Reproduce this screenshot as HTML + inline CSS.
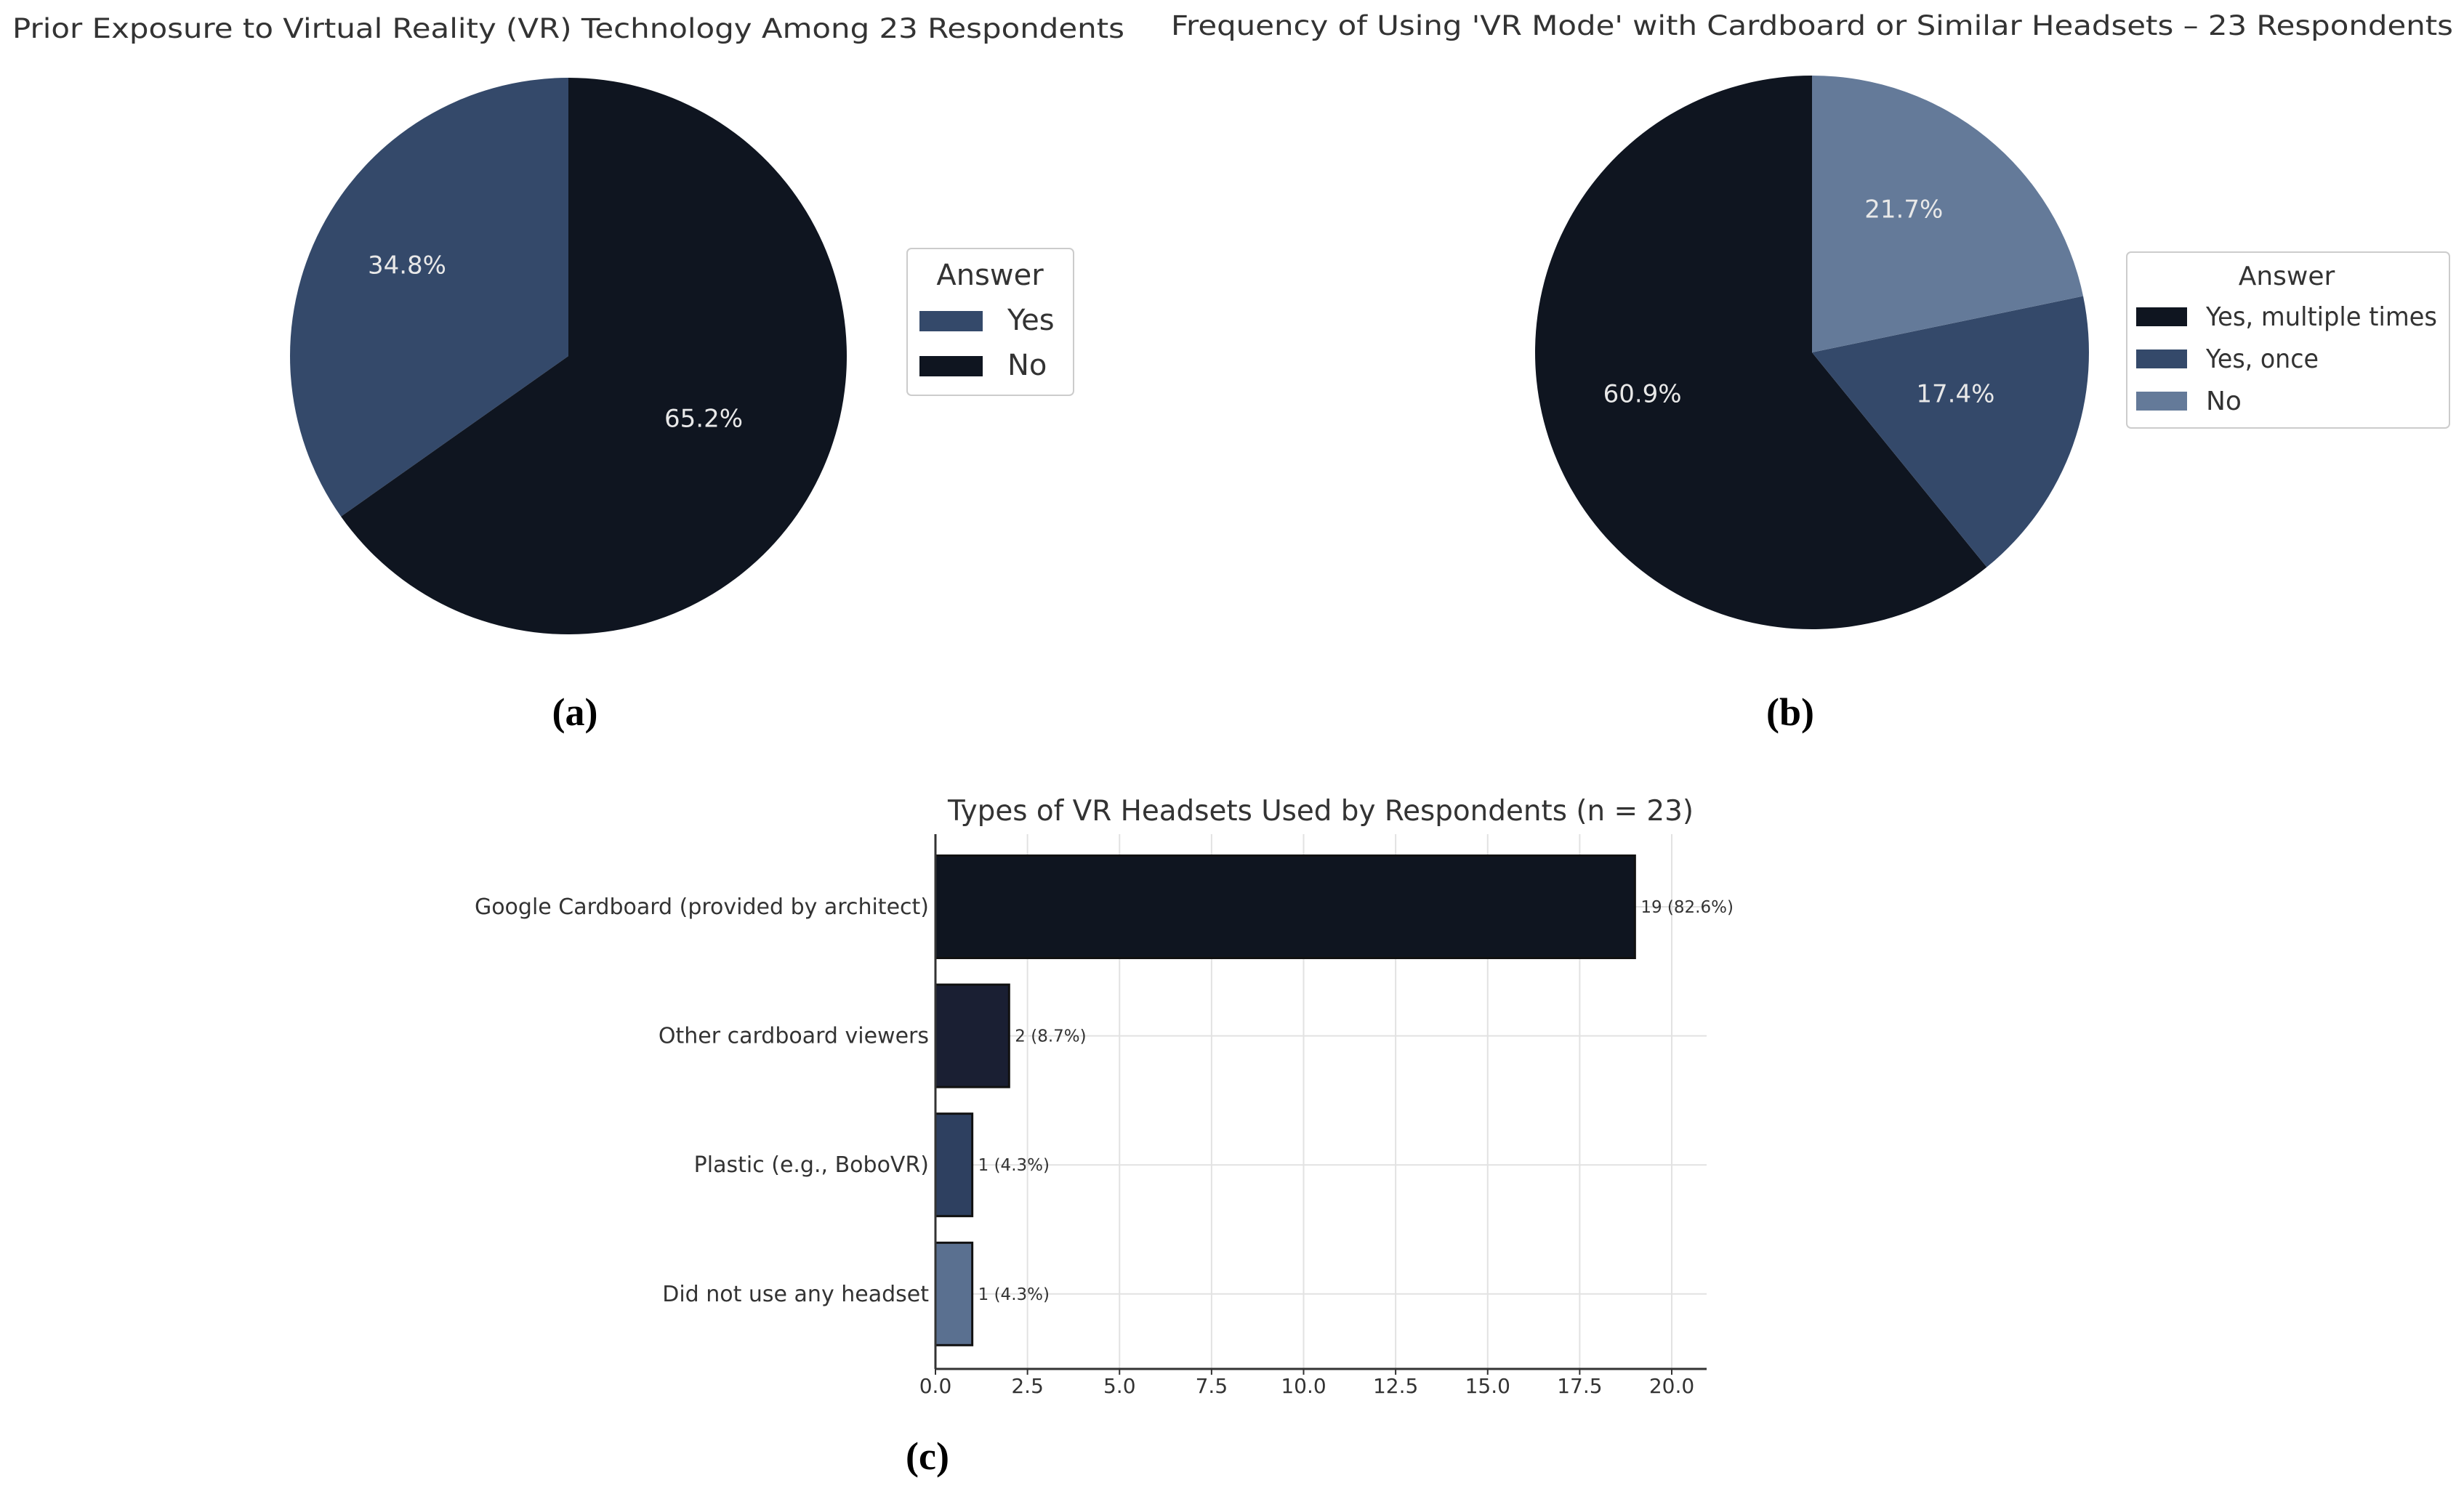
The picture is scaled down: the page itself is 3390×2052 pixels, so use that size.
<!DOCTYPE html>
<html><head><meta charset="utf-8"><style>
body{margin:0;background:#fff;}
svg{display:block;font-family:"DejaVu Sans","Liberation Sans",sans-serif;}
</style></head><body>
<svg id="fig" width="3390" height="2052" viewBox="0 0 3390 2052" xmlns="http://www.w3.org/2000/svg">
<rect width="3390" height="2052" fill="#fff"/>
<text x="782" y="52" font-size="37" fill="#333" text-anchor="middle" textLength="1530" lengthAdjust="spacingAndGlyphs">Prior Exposure to Virtual Reality (VR) Technology Among 23 Respondents</text>
<text x="2493" y="48" font-size="37" fill="#333" text-anchor="middle" textLength="1764" lengthAdjust="spacingAndGlyphs">Frequency of Using 'VR Mode' with Cardboard or Similar Headsets – 23 Respondents</text>
<g id="pieA"></g>
<g id="pieB"></g>
<g>
<rect x="1248" y="342" width="229" height="202" rx="6" fill="#fff" stroke="#ccc" stroke-width="2"/>
<text x="1362" y="392" font-size="40" fill="#333" text-anchor="middle">Answer</text>
<rect x="1265" y="428" width="87" height="28" fill="#34496a"/>
<text x="1386" y="454" font-size="40" fill="#333">Yes</text>
<rect x="1265" y="490" width="87" height="28" fill="#0f1520"/>
<text x="1386" y="516" font-size="40" fill="#333">No</text>
</g>
<g>
<rect x="2926" y="347" width="444" height="242" rx="6" fill="#fff" stroke="#ccc" stroke-width="2"/>
<text x="3146" y="392" font-size="36" fill="#333" text-anchor="middle">Answer</text>
<rect x="2939" y="423" width="70" height="26" fill="#0f1520"/>
<text x="3035" y="448" font-size="36" fill="#333" textLength="318" lengthAdjust="spacingAndGlyphs">Yes, multiple times</text>
<rect x="2939" y="481" width="70" height="26" fill="#34496a"/>
<text x="3035" y="506" font-size="36" fill="#333" textLength="155" lengthAdjust="spacingAndGlyphs">Yes, once</text>
<rect x="2939" y="539" width="70" height="26" fill="#647a99"/>
<text x="3035" y="564" font-size="36" fill="#333">No</text>
</g>
<text x="791" y="998" font-size="54" font-weight="bold" font-family="Liberation Serif,serif" text-anchor="middle">(a)</text>
<text x="2463" y="998" font-size="54" font-weight="bold" font-family="Liberation Serif,serif" text-anchor="middle">(b)</text>
<text x="1276" y="2022" font-size="54" font-weight="bold" font-family="Liberation Serif,serif" text-anchor="middle">(c)</text>
<text x="1817" y="1129" font-size="39" fill="#333" text-anchor="middle" textLength="1026" lengthAdjust="spacingAndGlyphs">Types of VR Headsets Used by Respondents (n = 23)</text>
<g id="bars"></g>
</svg>
<script>
const pieALabels=["Yes","No"];
const pieAValues=[8,15];
const pieBLabels=["Yes, multiple times","Yes, once","No"];
const pieBValues=[14,4,5];
const barCats=["Google Cardboard (provided by architect)","Other cardboard viewers","Plastic (e.g., BoboVR)","Did not use any headset"];
const barValues=[19,2,1,1];
const barTotal=23;
const xTicks=[0,2.5,5,7.5,10,12.5,15,17.5,20];

const NS="http://www.w3.org/2000/svg";
function mk(tag,attrs,parent){const e=document.createElementNS(NS,tag);for(const k in attrs)e.setAttribute(k,attrs[k]);parent.appendChild(e);return e;}

function pie(g,values,labels,colors,cx,cy,r,nameP){
  const tot=values.reduce((a,b)=>a+b,0);let a0=90;
  values.forEach((v,i)=>{
    const sweep=v/tot*360,a1=a0+sweep;
    const rad=d=>d*Math.PI/180;
    const x0=cx+r*Math.cos(rad(a0)),y0=cy-r*Math.sin(rad(a0));
    const x1=cx+r*Math.cos(rad(a1)),y1=cy-r*Math.sin(rad(a1));
    const p=mk('path',{d:`M${cx},${cy}L${x0},${y0}A${r},${r} 0 ${sweep>180?1:0} 0 ${x1},${y1}Z`,fill:colors[i]},g);
    
    
    const am=rad(a0+sweep/2);
    const t=mk('text',{x:cx+0.6*r*Math.cos(am)-18,y:cy-0.6*r*Math.sin(am)-8,'font-size':34,fill:'#e8e8e8','text-anchor':'middle'},g);
    t.textContent=(v/tot*100).toFixed(1)+'%';
    
    
    a0=a1;
  });
}
pie(document.getElementById('pieA'),pieAValues,pieALabels,["#34496a","#0f1520"],782,490,383,'pie-a');
pie(document.getElementById('pieB'),pieBValues,pieBLabels,["#0f1520","#34496a","#647a99"],2493,485,381,'pie-b');

const g=document.getElementById('bars');
const X0=1287,XR=2348,yTop=1148,yBot=1884;
const xs=v=>X0+v*50.65;
const yc=i=>1248+i*177.6;
const bh=141;
xTicks.forEach(t=>{
  const l=mk('line',{x1:xs(t),x2:xs(t),y1:yTop,y2:yBot,stroke:'#e2e2e2','stroke-width':2},g);
  
  
  mk('line',{x1:xs(t),x2:xs(t),y1:yBot,y2:yBot+8,stroke:'#333','stroke-width':2},g);
  const tx=mk('text',{x:xs(t),y:1917,'font-size':28,fill:'#333','text-anchor':'middle'},g);
  tx.textContent=t.toFixed(1);
  
  
});
barCats.forEach((c,i)=>{
  mk('line',{x1:X0,x2:XR,y1:yc(i),y2:yc(i),stroke:'#e2e2e2','stroke-width':2},g);
});
const barColors=["#0f1520","#1a1f33","#2e4060","#5a7090"];
barCats.forEach((c,i)=>{
  const r=mk('rect',{x:X0,y:yc(i)-bh/2,width:xs(barValues[i])-X0,height:bh,fill:barColors[i],stroke:'#111','stroke-width':3},g);
  
  
  const lb=mk('text',{x:1278,y:yc(i)+10,'font-size':30,fill:'#333','text-anchor':'end'},g);
  lb.textContent=c;
  
  
  const vl=mk('text',{x:xs(barValues[i])+8,y:yc(i)+8,'font-size':23,fill:'#333'},g);
  vl.textContent=barValues[i]+' ('+(barValues[i]/barTotal*100).toFixed(1)+'%)';
  
  
});
const ya=mk('line',{x1:X0,x2:X0,y1:yTop,y2:yBot,stroke:'#333','stroke-width':3},g);


const xa=mk('line',{x1:X0,x2:XR,y1:yBot,y2:yBot,stroke:'#333','stroke-width':3},g);


</script>
</body></html>
